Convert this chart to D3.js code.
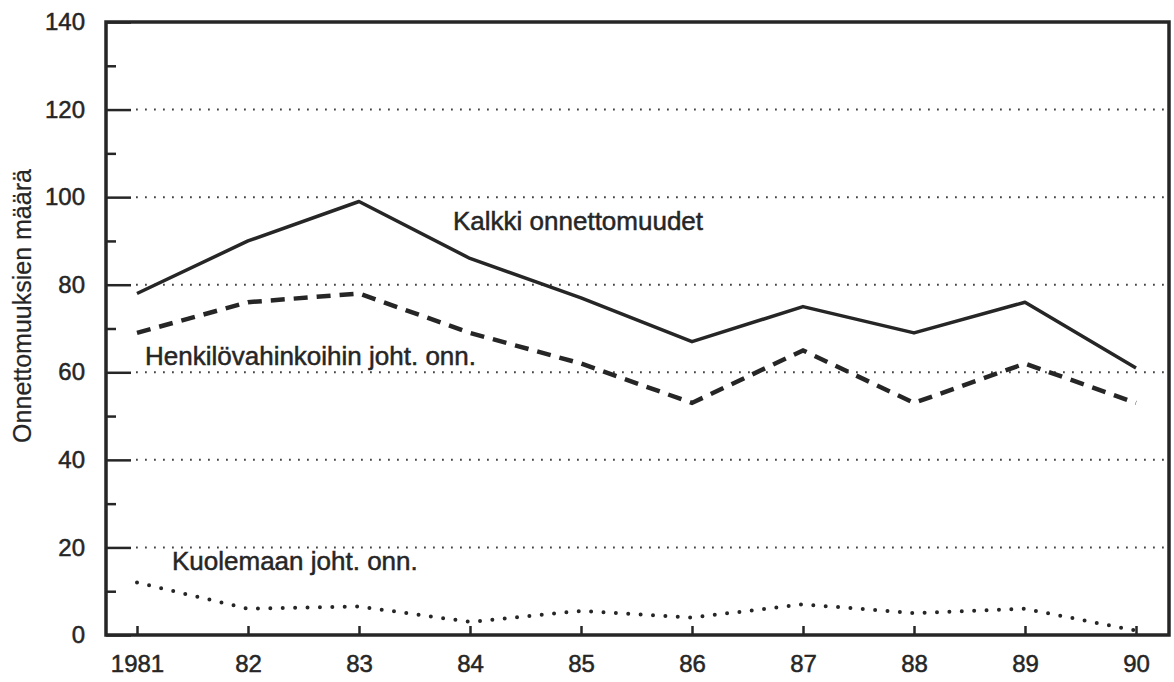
<!DOCTYPE html>
<html>
<head>
<meta charset="utf-8">
<script src="https://cdn.jsdelivr.net/npm/d3@7"></script>
<style>
  body { margin: 0; background: #fff; }
  svg { display: block; }
  text { font-family: "Liberation Sans", Arial, sans-serif; fill: #262626; stroke: #262626; stroke-width: 0.5px; }
</style>
</head>
<body>
<svg width="1174" height="682"></svg>
<script>
// years on the x axis and their printed labels
var years = [1981, 1982, 1983, 1984, 1985, 1986, 1987, 1988, 1989, 1990];
var yearLabels = ["1981", "82", "83", "84", "85", "86", "87", "88", "89", "90"];

// number of accidents
var kaikki = [78, 90, 99, 86, 77, 67, 75, 69, 76, 61];
var henkilo = [69, 76, 78, 69, 62, 53, 65, 53, 62, 53];
var kuolema = [12, 6, 6.5, 3, 5.5, 4, 7, 5, 6, 1];

var yMajor = [0, 20, 40, 60, 80, 100, 120, 140];
var yMinor = [10, 30, 50, 70, 90, 110, 130];
var gridVals = [20, 40, 60, 80, 100, 120];

var svg = d3.select("svg");
var ink = "#262626";

var plotLeft = 106, plotRight = 1169, plotTop = 22, plotBottom = 635;

var x = d3.scalePoint().domain(years).range([137, 1136]);
var y = d3.scaleLinear().domain([0, 140]).range([plotBottom, plotTop]);

// dotted grid
svg.append("g").selectAll("line")
  .data(gridVals).enter().append("line")
  .attr("x1", plotLeft + 30).attr("x2", plotRight)
  .attr("y1", function(d){ return y(d); })
  .attr("y2", function(d){ return y(d); })
  .attr("stroke", "#444").attr("stroke-width", 2)
  .attr("stroke-dasharray", "1.8,7.2");

// y axis, ticks pointing inwards
var yAxis = d3.axisLeft(y).tickValues(yMajor).tickSize(-25).tickPadding(21);
var yG = svg.append("g").attr("transform", "translate(" + plotLeft + ",0)").call(yAxis);
yG.select(".domain").remove();
yG.selectAll(".tick line").attr("stroke", ink).attr("stroke-width", 2.5);
yG.selectAll(".tick text").attr("font-size", 24).style("font-family", "Liberation Sans, Arial, sans-serif").attr("fill", ink);

var yMin = d3.axisLeft(y).tickValues(yMinor).tickSize(-10).tickFormat("");
var yMinG = svg.append("g").attr("transform", "translate(" + plotLeft + ",0)").call(yMin);
yMinG.select(".domain").remove();
yMinG.selectAll(".tick line").attr("stroke", ink).attr("stroke-width", 2.5);

// x axis, ticks pointing up
var xAxis = d3.axisBottom(x).tickSize(-9).tickPadding(20)
  .tickFormat(function(d, i){ return yearLabels[i]; });
var xG = svg.append("g").attr("transform", "translate(0," + plotBottom + ")").call(xAxis);
xG.select(".domain").remove();
xG.selectAll(".tick line").attr("stroke", ink).attr("stroke-width", 2.5);
xG.selectAll(".tick text").attr("font-size", 24).style("font-family", "Liberation Sans, Arial, sans-serif").attr("fill", ink);

// frame
svg.append("rect")
  .attr("x", plotLeft).attr("y", plotTop)
  .attr("width", plotRight - plotLeft).attr("height", plotBottom - plotTop)
  .attr("fill", "none").attr("stroke", ink).attr("stroke-width", 3.5);

var line = d3.line()
  .x(function(d, i){ return x(years[i]); })
  .y(function(d){ return y(d); });

svg.append("path").datum(kaikki)
  .attr("d", line).attr("fill", "none")
  .attr("stroke", ink).attr("stroke-width", 3.5)
  .attr("stroke-linejoin", "round");

svg.append("path").datum(henkilo)
  .attr("d", line).attr("fill", "none")
  .attr("stroke", ink).attr("stroke-width", 4.5)
  .attr("stroke-dasharray", "14,9");

svg.append("path").datum(kuolema)
  .attr("d", line).attr("fill", "none")
  .attr("stroke", ink).attr("stroke-width", 4)
  .attr("stroke-linecap", "round")
  .attr("stroke-dasharray", "0,12.4");

// series labels
svg.append("text").attr("x", 453).attr("y", 230)
  .attr("font-size", 26).text("Kalkki onnettomuudet");
svg.append("text").attr("x", 145).attr("y", 365)
  .attr("font-size", 26).text("Henkilövahinkoihin joht. onn.");
svg.append("text").attr("x", 172).attr("y", 570)
  .attr("font-size", 26).text("Kuolemaan joht. onn.");

// y title
svg.append("text")
  .attr("transform", "translate(31,306)rotate(-90)")
  .attr("text-anchor", "middle")
  .attr("font-size", 25)
  .style("stroke-width", "0.2px")
  .text("Onnettomuuksien määrä");
</script>
</body>
</html>
